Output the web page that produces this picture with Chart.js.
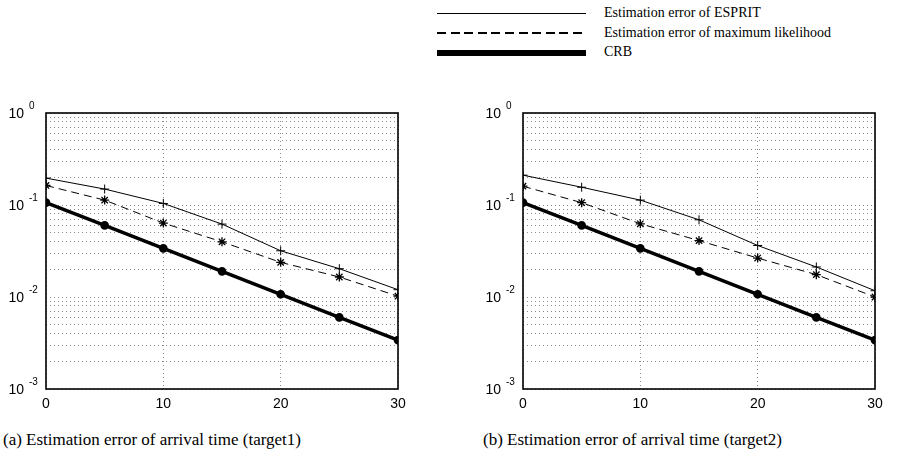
<!DOCTYPE html>
<html>
<head>
<meta charset="utf-8">
<script src="https://cdn.jsdelivr.net/npm/chart.js"></script>
<style>
  body { margin: 0; background: #fff; }
  #page { position: relative; width: 903px; height: 459px; overflow: hidden; background: #fff; }
  canvas { position: absolute; }
  .leg-line { position: absolute; left: 437px; width: 149px; }
  .leg-text { position: absolute; left: 604px; font: 14px "Liberation Serif", serif; color: #000; line-height: 16px; white-space: nowrap; }
  .caption { position: absolute; top: 429px; font: 17px "Liberation Serif", serif; color: #000; line-height: 22px; white-space: nowrap; }
</style>
</head>
<body>
<div id="page">
  <div class="leg-line" style="top:13px; height:1px; background:#000;"></div>
  <div class="leg-line" style="top:32px; height:2px; background:repeating-linear-gradient(to right, #000 0 9px, transparent 9px 13.6px);"></div>
  <div class="leg-line" style="top:50px; height:6px; background:#000;"></div>
  <div class="leg-text" style="top:5px;">Estimation error of ESPRIT</div>
  <div class="leg-text" style="top:25px;">Estimation error of maximum likelihood</div>
  <div class="leg-text" style="top:44px;">CRB</div>

  <canvas id="chartA" width="450" height="320" style="left:0px; top:100px;"></canvas>
  <canvas id="chartB" width="443" height="320" style="left:460px; top:100px;"></canvas>

  <div class="caption" style="left:3px;">(a) Estimation error of arrival time (target1)</div>
  <div class="caption" style="left:483px;">(b) Estimation error of arrival time (target2)</div>
</div>

<script>
// --------------------------------------------------
//  Data
// --------------------------------------------------
var snr = [0, 5, 10, 15, 20, 25, 30];

var espritA = [0.196, 0.149, 0.104, 0.062, 0.0318, 0.0203, 0.0120];
var mlA     = [0.163, 0.113, 0.0636, 0.0398, 0.0238, 0.0165, 0.0102];
var crbA    = [0.106, 0.060, 0.0338, 0.0190, 0.0107, 0.0060, 0.0034];

var espritB = [0.211, 0.156, 0.113, 0.069, 0.0363, 0.0212, 0.0117];
var mlB     = [0.160, 0.106, 0.0625, 0.0410, 0.0265, 0.0175, 0.0100];
var crbB    = [0.106, 0.060, 0.0338, 0.0190, 0.0107, 0.0060, 0.0034];

var xTicks = [0, 10, 20, 30];
var yDecadeExps = [-3, -2, -1, 0];

// minor log grid values: 1..9 x each decade
var yGridValues = [];
yDecadeExps.forEach(function (e) {
    var base = Math.pow(10, e);
    var top = (e === 0) ? 1 : 9;
    for (var k = 1; k <= top; k++) yGridValues.push(k * base);
});

function toPoints(values) {
    return values.map(function (v, i) { return { x: snr[i], y: v }; });
}

// --------------------------------------------------
//  Frame + superscript y labels
// --------------------------------------------------
var decorPlugin = {
    id: 'decor',
    afterDraw: function (chart) {
        var ctx = chart.ctx;
        var a = chart.chartArea;
        var y = chart.scales.y;
        ctx.save();
        ctx.strokeStyle = '#000';
        ctx.lineWidth = 1.6;
        ctx.strokeRect(a.left, a.top, a.right - a.left, a.bottom - a.top);
        ctx.fillStyle = '#000';
        ctx.textBaseline = 'middle';
        yDecadeExps.forEach(function (e) {
            var py = y.getPixelForValue(Math.pow(10, e));
            ctx.font = '14px "Liberation Sans", Arial, sans-serif';
            ctx.textAlign = 'right';
            ctx.fillText('10', a.left - 22, py + 1);
            ctx.font = '10px "Liberation Sans", Arial, sans-serif';
            ctx.textAlign = 'left';
            ctx.fillText(String(e), a.left - 17, py - 7);
        });
        ctx.restore();
    }
};

// --------------------------------------------------
//  Chart builder
// --------------------------------------------------
function makeChart(id, esprit, ml, crb, yAxisWidth, rightPad) {
    var canvas = document.getElementById(id);
    return new Chart(canvas.getContext('2d'), {
        type: 'line',
        data: {
            datasets: [
                {
                    label: 'Estimation error of ESPRIT',
                    data: toPoints(esprit),
                    borderColor: '#000',
                    borderWidth: 1,
                    pointStyle: 'cross',
                    pointRadius: 4.5,
                    pointBorderWidth: 1,
                    pointBorderColor: '#000',
                    fill: false,
                    tension: 0
                },
                {
                    label: 'Estimation error of maximum likelihood',
                    data: toPoints(ml),
                    borderColor: '#000',
                    borderWidth: 1,
                    borderDash: [8, 5],
                    pointStyle: 'star',
                    pointRadius: 4.5,
                    pointBorderWidth: 1.3,
                    pointBorderColor: '#000',
                    fill: false,
                    tension: 0
                },
                {
                    label: 'CRB',
                    data: toPoints(crb),
                    borderColor: '#000',
                    borderWidth: 3.5,
                    pointStyle: 'circle',
                    pointRadius: 2.6,
                    pointBackgroundColor: '#000',
                    pointBorderColor: '#000',
                    fill: false,
                    tension: 0
                }
            ]
        },
        options: {
            responsive: false,
            animation: false,
            devicePixelRatio: 1,
            layout: { padding: { top: 13, right: rightPad, left: 0, bottom: 0 } },
            plugins: {
                legend: { display: false },
                tooltip: { enabled: false }
            },
            scales: {
                x: {
                    type: 'linear',
                    min: 0,
                    max: 30,
                    afterBuildTicks: function (scale) {
                        scale.ticks = xTicks.map(function (v) { return { value: v }; });
                    },
                    afterFit: function (scale) { scale.height = 31; },
                    grid: { color: '#8a8a8a', lineWidth: 1, drawTicks: false },
                    border: { display: false, dash: [1, 3] },
                    ticks: {
                        color: '#000',
                        padding: 7,
                        maxRotation: 0,
                        font: { size: 14, family: '"Liberation Sans", Arial, sans-serif' }
                    }
                },
                y: {
                    type: 'logarithmic',
                    min: 0.001,
                    max: 1,
                    afterBuildTicks: function (scale) {
                        scale.ticks = yGridValues.map(function (v) { return { value: v }; });
                    },
                    afterFit: function (scale) { scale.width = yAxisWidth; },
                    grid: { color: '#8a8a8a', lineWidth: 1, drawTicks: false },
                    border: { display: false, dash: [1, 3] },
                    ticks: { display: false, autoSkip: false }
                }
            }
        },
        plugins: [decorPlugin]
    });
}

makeChart('chartA', espritA, mlA, crbA, 46, 52);
makeChart('chartB', espritB, mlB, crbB, 63, 28);
</script>
</body>
</html>
